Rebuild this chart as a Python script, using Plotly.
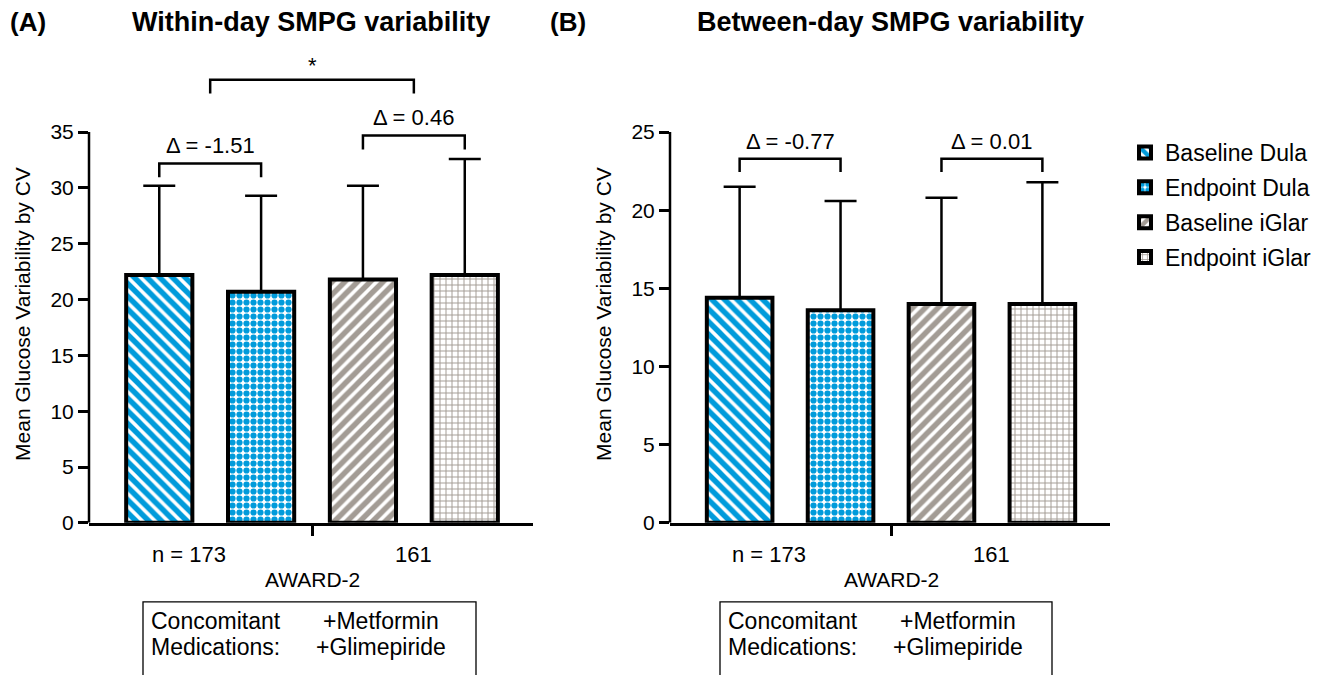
import plotly.graph_objects as go

W, H = 1328, 675
S = 0.984  # vertical compensation observed in the rendered photograph
FONT = "Liberation Sans, Arial, Helvetica, sans-serif"
BLUE = "#009BDB"
GRAY = "#A39C95"

# ---------------- data ----------------
series = ["Baseline Dula", "Endpoint Dula", "Baseline iGlar", "Endpoint iGlar"]
within_mean = [22.2, 20.7, 21.8, 22.2]
within_sd = [8.0, 8.6, 8.4, 10.4]
between_mean = [14.4, 13.6, 14.0, 14.0]
between_sd = [7.1, 7.0, 6.8, 7.8]
n_labels = ["n = 173", "161"]
within_deltas = ["Δ = -1.51", "Δ = 0.46"]
between_deltas = ["Δ = -0.77", "Δ = 0.01"]
within_bracket_lvl = [32.2, 34.7]
between_bracket_lvl = [23.3, 23.3]
star_lvl = 39.7
study = "AWARD-2"
med_label = ["Concomitant", "Medications:"]
med_values = ["+Metformin", "+Glimepiride"]
titles = ["Within-day SMPG variability", "Between-day SMPG variability"]
panel_tags = ["(A)", "(B)"]
ytitle = "Mean Glucose Variability by CV"

patterns = [
    dict(shape="\\", fgcolor=BLUE, bgcolor="white", size=9, solidity=0.6, fgopacity=1),
    dict(shape=".", fgcolor=BLUE, bgcolor="white", size=7, solidity=0.62, fgopacity=1),
    dict(shape="/", fgcolor=GRAY, bgcolor="white", size=9, solidity=0.6, fgopacity=1),
    dict(shape="+", fgcolor=GRAY, bgcolor="white", size=6, solidity=0.3, fgopacity=1),
]

# ---------------- layout geometry (pixels) ----------------
px_x = lambda p: p / W
px_y = lambda p: (H - p / S) / H
left_dom = [px_x(89), px_x(533)]
right_dom = [px_x(670), px_x(1110)]
ydom = [px_y(523), px_y(54)]
xrange_ = [-0.69, 3.67]

fig = go.Figure()

panels = [
    dict(xa="x", ya="y", mean=within_mean, sd=within_sd, deltas=within_deltas,
         lvl=within_bracket_lvl, ymax=35, drop=1.25, yr=[0, 42], legend=True),
    dict(xa="x2", ya="y2", mean=between_mean, sd=between_sd, deltas=between_deltas,
         lvl=between_bracket_lvl, ymax=25, drop=0.85, yr=[0, 30], legend=False),
]

for p in panels:
    for i, name in enumerate(series):
        fig.add_trace(go.Bar(
            x=[i], y=[p["mean"][i]], width=0.65, name=name,
            xaxis=p["xa"], yaxis=p["ya"],
            marker=dict(color="white", pattern=patterns[i],
                        line=dict(color="black", width=4)),
            error_y=dict(type="data", symmetric=False, array=[p["sd"][i]],
                         arrayminus=[0], color="black", thickness=2.5, width=16),
            showlegend=p["legend"], legendgroup=name,
        ))
    for k in range(2):
        a, b = 2 * k, 2 * k + 1
        lv = p["lvl"][k]
        fig.add_trace(go.Scatter(
            x=[a, a, b, b], y=[lv - p["drop"], lv, lv, lv - p["drop"]],
            mode="lines", line=dict(color="black", width=2.5),
            xaxis=p["xa"], yaxis=p["ya"], showlegend=False, hoverinfo="skip"))
        fig.add_annotation(x=(a + b) / 2, y=lv, xref=p["xa"], yref=p["ya"],
                           text=p["deltas"][k], showarrow=False, xanchor="center",
                           yanchor="bottom", yshift=3, font=dict(size=22))
    fig.add_shape(type="line", xref=p["xa"] + " domain", yref=p["ya"],
                  x0=0, x1=0, y0=0, y1=p["ymax"], line=dict(color="black", width=2.5))

fig.add_trace(go.Scatter(
    x=[0.5, 0.5, 2.5, 2.5], y=[star_lvl - 1.25, star_lvl, star_lvl, star_lvl - 1.25],
    mode="lines", line=dict(color="black", width=2.5),
    xaxis="x", yaxis="y", showlegend=False, hoverinfo="skip"))
fig.add_annotation(x=1.5, y=star_lvl, xref="x", yref="y", text="*", showarrow=False,
                   xanchor="center", yanchor="bottom", yshift=0, font=dict(size=22))

axis_common = dict(showgrid=False, zeroline=False, color="black")
fig.update_layout(
    xaxis=dict(domain=left_dom, range=xrange_, anchor="y", tickvals=[1.5],
               showticklabels=False, ticks="outside", ticklen=10, tickwidth=2.5,
               showline=True, linewidth=2.5, linecolor="black", **axis_common),
    xaxis2=dict(domain=right_dom, range=xrange_, anchor="y2", tickvals=[1.5],
                showticklabels=False, ticks="outside", ticklen=10, tickwidth=2.5,
                showline=True, linewidth=2.5, linecolor="black", **axis_common),
    yaxis=dict(domain=ydom, range=[0, 42], anchor="x", tickvals=list(range(0, 36, 5)),
               ticks="outside", ticklen=10, tickwidth=2.5, showline=False,
               tickfont=dict(size=21), **axis_common),
    yaxis2=dict(domain=ydom, range=[0, 30], anchor="x2", tickvals=list(range(0, 26, 5)),
                ticks="outside", ticklen=10, tickwidth=2.5, showline=False,
                tickfont=dict(size=21), **axis_common),
    barmode="overlay",
    width=W, height=H,
    margin=dict(l=0, r=0, t=0, b=0),
    paper_bgcolor="white", plot_bgcolor="white",
    font=dict(family=FONT, size=21, color="black"),
    legend=dict(x=px_x(1125), y=px_y(131), xanchor="left", yanchor="top",
                font=dict(size=23), tracegroupgap=2, bgcolor="rgba(0,0,0,0)"),
)

panel_px = [dict(x0=89, x1=533, yt=23, tag=8, box=(143, 476)),
            dict(x0=670, x1=1110, yt=604, tag=548, box=(720, 1052))]
for j, (p, g) in enumerate(zip(panels, panel_px)):
    fig.add_annotation(xref="paper", yref="paper", x=px_x((g["x0"] + g["x1"]) / 2),
                       y=px_y(22), xanchor="center", yanchor="middle",
                       text="<b>%s</b>" % titles[j], showarrow=False, font=dict(size=27))
    fig.add_annotation(xref="paper", yref="paper", x=px_x(g["tag"]), y=px_y(22),
                       xanchor="left", yanchor="middle",
                       text="<b>%s</b>" % panel_tags[j], showarrow=False,
                       font=dict(size=26))
    fig.add_annotation(xref="paper", yref="paper", x=px_x(g["yt"]), y=px_y(314),
                       xanchor="center", yanchor="middle",
                       text=ytitle, textangle=-90, showarrow=False, font=dict(size=21))
    fig.add_annotation(xref=p["xa"], yref="paper", x=0.5, y=px_y(555), xshift=-21,
                       xanchor="center", yanchor="middle",
                       text=n_labels[0], showarrow=False, font=dict(size=22))
    fig.add_annotation(xref=p["xa"], yref="paper", x=2.5, y=px_y(555),
                       xanchor="center", yanchor="middle",
                       text=n_labels[1], showarrow=False, font=dict(size=22))
    fig.add_annotation(xref=p["xa"], yref="paper", x=1.5, y=px_y(580),
                       xanchor="center", yanchor="middle",
                       text=study, showarrow=False, font=dict(size=21))
    bx0, bx1 = g["box"]
    fig.add_shape(type="rect", xref="paper", yref="paper", x0=px_x(bx0), x1=px_x(bx1),
                  y0=-0.05, y1=px_y(602), line=dict(color="black", width=1.3))
    for r in range(2):
        fig.add_annotation(xref="paper", yref="paper", x=px_x(bx0 + 6),
                           y=px_y(621 + 26 * r), xanchor="left", yanchor="middle",
                           text=med_label[r], showarrow=False, font=dict(size=23))
        fig.add_annotation(xref="paper", yref="paper", x=px_x(bx0 + 238),
                           y=px_y(621 + 26 * r), xanchor="center", yanchor="middle",
                           text=med_values[r], showarrow=False, font=dict(size=23))

fig.write_html(
    "out.html",
    config={"displayModeBar": False},
    post_script=(
        "document.documentElement.style.margin='0';"
        "document.documentElement.style.padding='0';"
        "document.documentElement.style.height='675px';"
        "document.documentElement.style.overflow='hidden';"
        "document.body.style.margin='0';"
        "document.body.style.padding='0';"
        "document.body.style.height='675px';"
        "document.body.style.overflow='hidden';"
    ),
)
